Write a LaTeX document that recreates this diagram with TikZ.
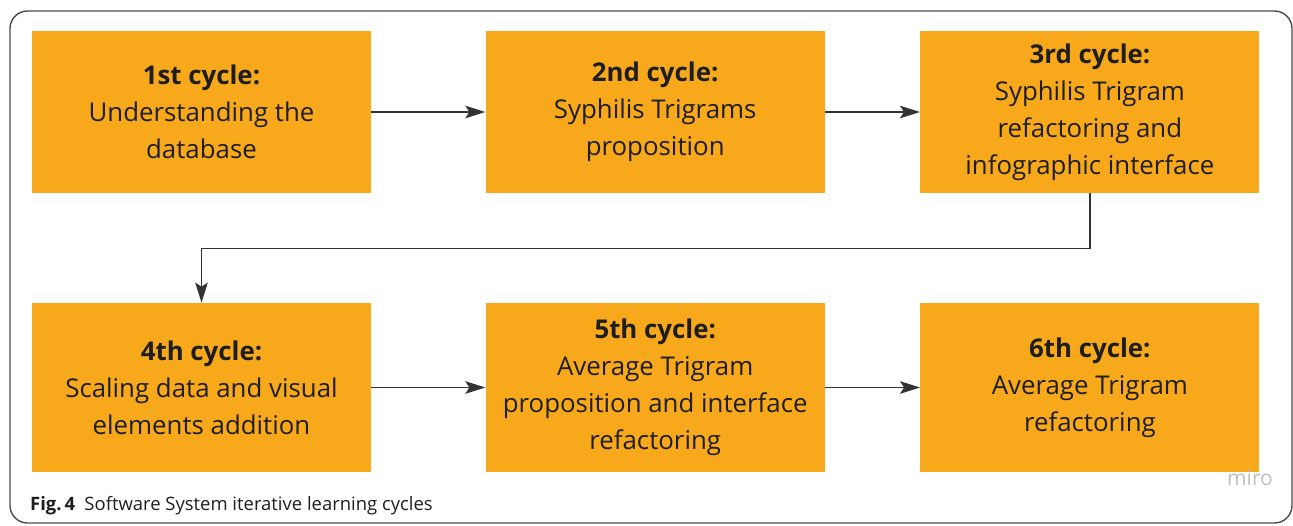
\documentclass[tikz,border=0pt]{standalone}
\usepackage{fontspec}
\setmainfont{Open Sans}
\usetikzlibrary{positioning, arrows.meta}
\definecolor{cycorange}{HTML}{F7A81B}
\definecolor{cyctext}{HTML}{1E1E1E}

\begin{document}
\begin{tikzpicture}[node distance=2.28cm, cyclebox/.style={fill=cycorange, text=cyctext, align=center, minimum width=6.78cm, minimum height=3.24cm, inner sep=0pt, font=\fontsize{14.7}{21}\selectfont}, flow/.style={-{Stealth[length=0.4cm, width=0.25cm, inset=0.08cm]}, draw=black!80, line width=0.9pt}]
            \useasboundingbox (0,0) rectangle (25.86,-10.5);
            \draw[black!70, line width=0.8pt, rounded corners=0.35cm] (0.2,-0.22) rectangle (25.84,-10.46);

            \node[cyclebox] (one) at (4.03,-2.24) {\textbf{1st cycle:}\\Understanding the\\database};
            \node[cyclebox, right=of one] (two) {\textbf{2nd cycle:}\\Syphilis Trigrams\\proposition};
            \node[cyclebox, right=1.9cm of two] (three) {\textbf{3rd cycle:}\\Syphilis Trigram\\refactoring and\\infographic interface};
            \node[cyclebox, minimum height=3.38cm] (four) at (4.03,-7.75) {\textbf{4th cycle:}\\Scaling data and visual\\elements addition};
            \node[cyclebox, minimum height=3.38cm, right=of four] (five) {\textbf{5th cycle:}\\Average Trigram\\proposition and interface\\refactoring};
            \node[cyclebox, minimum height=3.38cm, right=1.9cm of five] (six) {\textbf{6th cycle:}\\Average Trigram\\refactoring};

            \draw[flow] (one) -- (two);
            \draw[flow] (two) -- (three);
            \draw[flow] (three.south) -- ++(0,-1.1) -| (four.north);
            \draw[flow] (four) -- (five);
            \draw[flow] (five) -- (six);

            \node[text=black!25, font=\fontsize{12}{12}\selectfont] (miro) at (25.0,-9.56) {miro};
            \node[anchor=west, text=cyctext, font=\fontsize{10.5}{12}\selectfont] (caption) at (0.48,-10.12) {\textbf{Fig.\,4}\enspace Software System iterative learning cycles};
        \end{tikzpicture}
\end{document}
